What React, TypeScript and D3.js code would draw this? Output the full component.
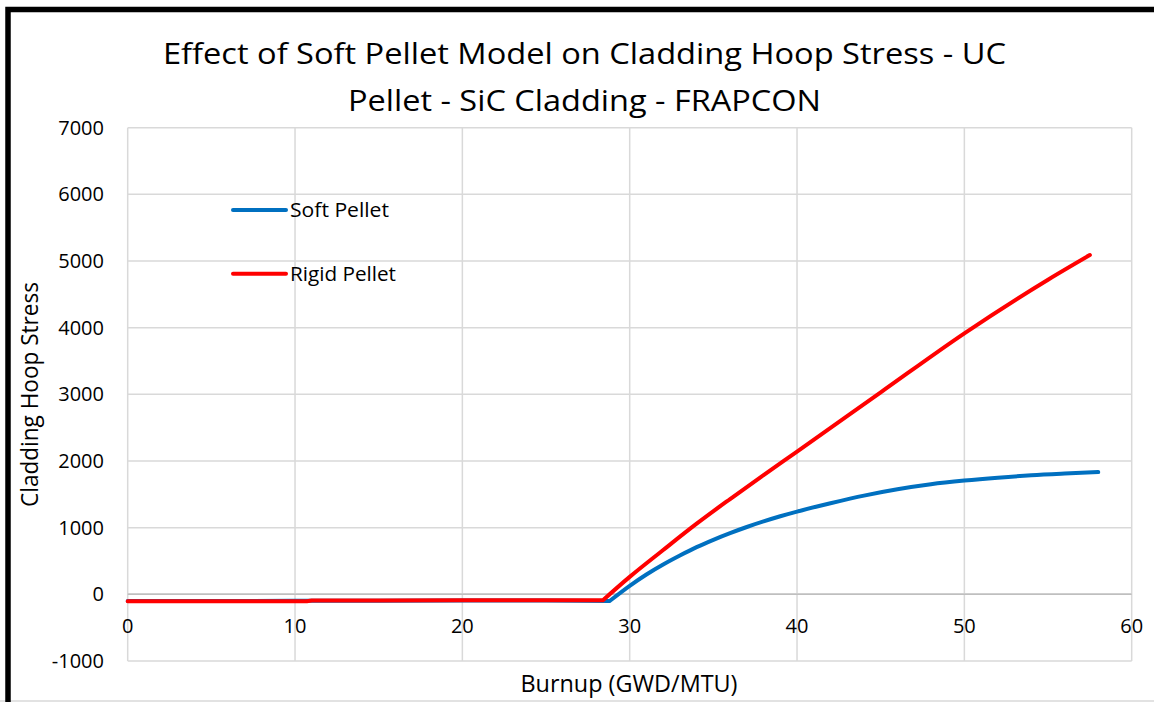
import React from "react";
import * as d3 from "d3";

const xTicks = [0, 10, 20, 30, 40, 50, 60];
const yTicks = [-1000, 0, 1000, 2000, 3000, 4000, 5000, 6000, 7000];

const softBurnup = [0, 5, 10, 15, 20, 25, 28.8, 30, 31, 32, 33, 34, 35, 36, 37, 38, 39, 40, 42, 44, 46, 48, 50, 52, 54, 56, 58];
const softStress = [-100, -100, -98, -95, -93, -94, -100, 128, 298, 448, 583, 708, 818, 918, 1010, 1094, 1171, 1241, 1366, 1481, 1576, 1651, 1706, 1750, 1786, 1812, 1834];

const rigidBurnup = [0, 5, 10.7, 11, 15, 20, 25, 28.4, 30, 32, 34, 36, 38, 40, 45, 50, 55, 57.5];
const rigidStress = [-105, -105, -105, -92, -92, -90, -90, -88, 262, 665, 1060, 1430, 1790, 2141, 3030, 3916, 4720, 5090];

// index of the point where each series leaves the flat region
const softKink = 6;
const rigidKink = 7;

const seriesNames = ["Soft Pellet", "Rigid Pellet"];
const seriesColors = ["#0070C0", "#FF0000"];

const titleLines = ["Effect of Soft Pellet Model on Cladding Hoop Stress - UC", "Pellet - SiC Cladding - FRAPCON"];
const xTitle = "Burnup (GWD/MTU)";
const yTitle = "Cladding Hoop Stress";

const W = 1154;
const H = 702;
const FONT = "'Open Sans', 'Noto Sans', sans-serif";

export default function App() {
  const x = d3.scaleLinear().domain([0, 60]).range([127.7, 1131.7]);
  const y = d3.scaleLinear().domain([-1000, 7000]).range([661, 127.7]);

  const flatLine = d3
    .line<[number, number]>()
    .x((d) => x(d[0]))
    .y((d) => y(d[1]))
    .curve(d3.curveLinear);
  const smoothLine = d3
    .line<[number, number]>()
    .x((d) => x(d[0]))
    .y((d) => y(d[1]))
    .curve(d3.curveMonotoneX);

  const soft: [number, number][] = softBurnup.map((b, i) => [b, softStress[i]]);
  const rigid: [number, number][] = rigidBurnup.map((b, i) => [b, rigidStress[i]]);

  const pathFor = (pts: [number, number][], k: number) =>
    (flatLine(pts.slice(0, k + 1)) || "") + (smoothLine(pts.slice(k)) || "");

  return (
    <svg
      width={W}
      height={H}
      style={{ position: "absolute", left: 0, top: 0, background: "#fff" }}
      fontFamily={FONT}
    >
      <rect x={0} y={0} width={W} height={H} fill="#fff" />
      {/* outer frame */}
      <line x1={0} x2={W} y1={701} y2={701} stroke="#d9d9d9" strokeWidth={1.5} />
      <path d={`M8,${H + 5} L8,9.5 L${W + 5},9.5`} fill="none" stroke="#000" strokeWidth={5.5} />

      {/* title */}
      <text x={584.5} y={64} textAnchor="middle" fontSize={30} fill="#000" textLength={843} lengthAdjust="spacingAndGlyphs">
        {titleLines[0]}
      </text>
      <text x={584.5} y={111} textAnchor="middle" fontSize={30} fill="#000" textLength={473} lengthAdjust="spacingAndGlyphs">
        {titleLines[1]}
      </text>

      {/* grid */}
      {yTicks.map((t) => (
        <line
          key={"gy" + t}
          x1={x(0)}
          x2={x(60)}
          y1={y(t)}
          y2={y(t)}
          stroke={t === 0 ? "#bfbfbf" : "#d9d9d9"}
          strokeWidth={1.5}
        />
      ))}
      {xTicks.map((t) => (
        <line key={"gx" + t} x1={x(t)} x2={x(t)} y1={y(7000)} y2={y(-1000)} stroke="#d9d9d9" strokeWidth={1.5} />
      ))}
      <line x1={x(0)} x2={x(60)} y1={y(0)} y2={y(0)} stroke="#bfbfbf" strokeWidth={1.5} />

      {/* tick labels */}
      {yTicks.map((t) => (
        <text key={"ly" + t} x={104} y={y(t) + 7} textAnchor="end" fontSize={20} fill="#000">
          {t}
        </text>
      ))}
      {xTicks.map((t) => (
        <text key={"lx" + t} x={x(t)} y={633} textAnchor="middle" fontSize={20} fill="#000">
          {t}
        </text>
      ))}

      {/* axis titles */}
      <text x={629} y={692} textAnchor="middle" fontSize={23} fill="#000" textLength={217} lengthAdjust="spacingAndGlyphs">
        {xTitle}
      </text>
      <text
        transform={`translate(37.5, 394.5) rotate(-90)`}
        textAnchor="middle"
        fontSize={23}
        fill="#000"
        textLength={225}
        lengthAdjust="spacingAndGlyphs"
      >
        {yTitle}
      </text>

      {/* series */}
      <path d={pathFor(soft, softKink)} fill="none" stroke={seriesColors[0]} strokeWidth={4} strokeLinejoin="round" strokeLinecap="round" />
      <path d={pathFor(rigid, rigidKink)} fill="none" stroke={seriesColors[1]} strokeWidth={4} strokeLinejoin="round" strokeLinecap="round" />

      {/* legend */}
      {seriesNames.map((n, i) => {
        const ly = i === 0 ? 210 : 273.7;
        return (
          <g key={n}>
            <line x1={233} x2={286} y1={ly} y2={ly} stroke={seriesColors[i]} strokeWidth={4} strokeLinecap="round" />
            <text x={290} y={ly + 7} fontSize={20} fill="#000" textLength={i === 0 ? 99 : 106} lengthAdjust="spacingAndGlyphs">
              {n}
            </text>
          </g>
        );
      })}
    </svg>
  );
}
